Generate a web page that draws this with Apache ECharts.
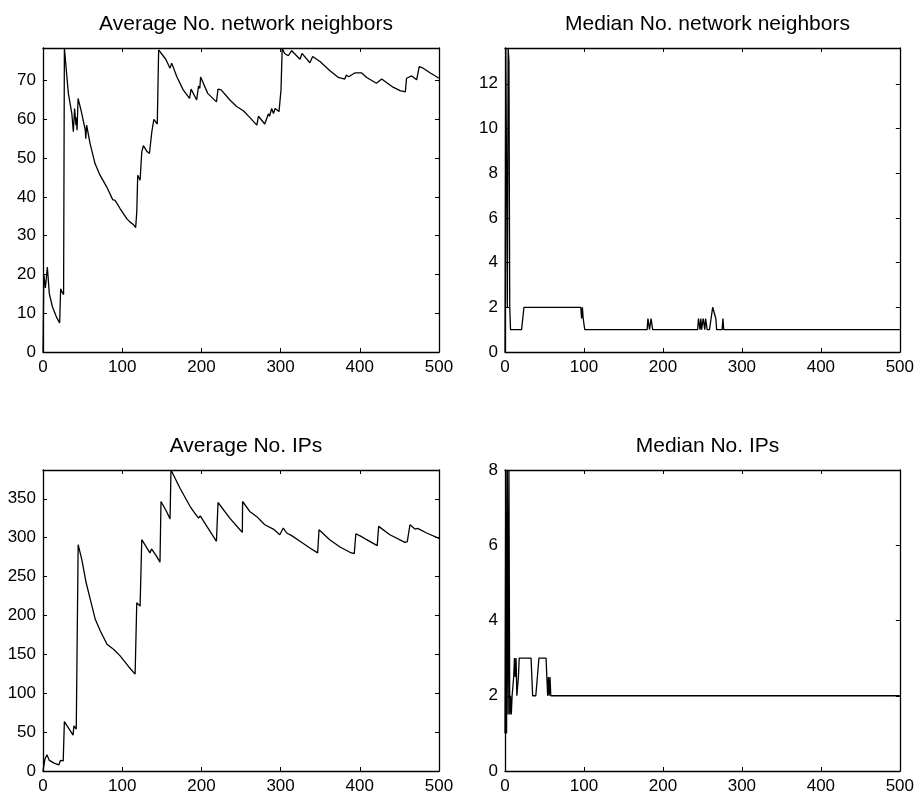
<!DOCTYPE html>
<html>
<head>
<meta charset="utf-8">
<script src="https://cdn.jsdelivr.net/npm/echarts@6/dist/echarts.min.js"></script>
<style>
html,body{margin:0;padding:0;background:#fff;}
#chart{width:917px;height:795px;}
</style>
</head>
<body>
<div id="chart"></div>
<script>
// ---------- data ----------
const titles = ["Average No. network neighbors", "Median No. network neighbors", "Average No. IPs", "Median No. IPs"];

const avgNbrX = [0,1,3,5.5,8,12,17,21,22.3,24,26,27,28,32,36.4,38.3,39.9,41.6,42.3,43,44.3,48,53.4,54,55.1,59.4,65.7,72,74,80.4,88,91,97.3,105.7,110,112,114,117,118.4,119,119.6,122.6,124.7,126.8,131,134.4,137.4,138.5,140,144.3,146,147,148,155,160.4,162.5,169,177,185,187,194,196.4,198,199,208,219,221,225,236,244.5,253,261,270,272,280,284.5,286,288.7,291,293,298,300.5,302,305,309.7,314,324.5,327,337,340.5,349.7,362,373,381,383,386,394,402,408.7,421,427.6,442,450.8,457.5,459,465.5,471.8,475,480,488.6,500];
const avgNbrY = [0,20,16.5,21.9,15,11.6,9,7.5,16.3,15.5,14.8,78.4,78.4,66.7,61.5,56.8,62.8,58.5,60.5,57.2,65.4,62.4,57.2,55,58.5,53.8,48.6,45.6,45.7,42.6,39.3,39.1,37,34.4,33.5,33.8,32.9,32.1,36.1,36,45.6,44.3,51.6,53.2,51.8,51.2,56.8,56.5,60,58.8,77.9,78.4,78.4,75.5,73.2,74.5,71,67.6,65.4,67.8,65,68.6,68,70.9,66.7,64.5,67.8,67.6,65,63.3,62.2,60.5,58.5,60.8,58.8,61.4,60.8,62.8,61.5,62.8,62,67.6,78.4,77,76.4,77.7,75.5,77,74.6,76.2,74.9,72.6,70.8,70.4,71.4,71,72,72,70.8,69.3,70.4,68.3,67.4,67.1,70.6,71.2,70.2,73.6,73.2,72,70.6];

const medNbrX = [0,1,2,3,4,5,6,7,21,24,96,97,98,99,100,101,180,181,182,183,184,185,186,187,244,245,246,247,248,249,250,251,252,253,254,255,256,259,261,263,265,267,268,275,276,277,500];
const medNbrY = [0,13.6,13.6,2,13.6,13,2,1,1,2,2,1.5,2,1.5,1.5,1,1,1.5,1.5,1,1,1.5,1.5,1,1,1.5,1.5,1,1.5,1,1,1.5,1.5,1,1.5,1.5,1,1,1.5,2,2,1.5,1,1,1.5,1,1];

const avgIpX = [0,2.5,3.5,5,8,14,20,22,25.5,27,38,39,42,43.5,44.4,45,49,54.5,55.5,59.7,66,72.4,80.8,89,91,97.4,107.9,116.3,117.5,118.4,119.6,122.6,124.7,127,135,137,143.5,147.7,149,156,160.4,161.6,173,185.8,190,196.4,198.5,201,219,221,235.8,248.7,251.7,252,261,270,272,280,290.8,299,303.4,307.7,314,324.5,337,346.8,348.5,362,375,387.6,393,395,401,408.7,422,423.8,438,457,460,463.3,469.7,473,484.4,500];
const avgIpY = [0,15.7,17,20.9,13.6,10.2,8,13.6,13,63.5,46,58,54,56,291,291,271.8,242,241,220.6,195,180,163,156.6,156,148,134.4,124.6,124,216.4,218.4,212,297.4,296,280.4,285.5,276,268.4,346.5,333.7,324,387,363.6,340,333.7,325.2,328,326,295.3,345.2,325.2,310.2,306.8,346.5,333.7,327,325.5,316.6,311,303.8,312.4,306,302.6,295.3,286.8,280.4,310.2,297.4,288,281.2,279.5,305,302,297.4,289.7,314.5,303.8,294,295,316.6,311,312,306,299];

const medIpX = [0,1,2,3,4,5,6,7,8,9,11,12,13,14,15,17,18,33,35,39,41,42,43,52,53,54,55,56,57,58,500];
const medIpY = [1,8,1,8,1.5,8,1.5,2,1.5,2,2.5,3,2.5,3,2,2.5,3,3,2,2,2.5,2.5,3,3,2.5,2,2.5,2,2.5,2,2];

const xTicks = [0,100,200,300,400,500];
const yMax = [78.4, 13.6, 387, 8];
const yStep = [10, 2, 50, 2];

// ---------- chart ----------
const pair = (xs, ys) => xs.map((x, i) => [x, ys[i]]);
const seriesData = [pair(avgNbrX, avgNbrY), pair(medNbrX, medNbrY), pair(avgIpX, avgIpY), pair(medIpX, medIpY)];

const grids = [
  {left: 43, top: 48, width: 396, height: 304},
  {left: 505, top: 48, width: 395, height: 304},
  {left: 43, top: 470, width: 396, height: 302},
  {left: 505, top: 470, width: 395, height: 302}
];
const FONT = "'Liberation Sans', Arial, Helvetica, sans-serif";
const axisCommon = {
  axisLine: {show: true, onZero: false, lineStyle: {color: '#000', width: 1.3}},
  axisTick: {show: true, inside: true, length: 4, lineStyle: {color: '#000', width: 1}},
  splitLine: {show: false}
};
const xAxes = [], yAxes = [], series = [], title = [];
grids.forEach((g, i) => {
  const xa = Object.assign({type: 'value', gridIndex: i, min: xTicks[0], max: xTicks[xTicks.length - 1], interval: 100}, axisCommon);
  xAxes.push(Object.assign({}, xa, {position: 'bottom',
    axisLabel: {show: true, color: '#000', fontSize: 17, fontFamily: FONT, margin: 7}}));
  xAxes.push(Object.assign({}, xa, {position: 'top', axisLabel: {show: false}}));
  const isMaxTick = Math.abs(yMax[i] / yStep[i] - Math.round(yMax[i] / yStep[i])) < 1e-9;
  const ya = Object.assign({type: 'value', gridIndex: i, min: 0, max: yMax[i], interval: yStep[i]}, axisCommon);
  yAxes.push(Object.assign({}, ya, {position: 'left',
    axisLabel: {show: true, color: '#000', fontSize: 17, fontFamily: FONT, margin: 7, showMaxLabel: isMaxTick}}));
  yAxes.push(Object.assign({}, ya, {position: 'right', axisLabel: {show: false}}));
  series.push({
    type: 'line', xAxisIndex: 2 * i, yAxisIndex: 2 * i, data: seriesData[i],
    showSymbol: false, symbol: 'none', animation: false,
    lineStyle: {color: '#000', width: 1.3}, clip: true
  });
  title.push({
    text: titles[i], left: g.left + g.width / 2, top: i < 2 ? 9 : 431, textAlign: 'center',
    textStyle: {color: '#000', fontSize: 21, fontWeight: 'normal', fontFamily: FONT}
  });
});

const chart = echarts.init(document.getElementById('chart'), null, {renderer: 'canvas'});
chart.setOption({
  backgroundColor: '#fff',
  animation: false,
  title: title,
  grid: grids,
  xAxis: xAxes,
  yAxis: yAxes,
  series: series
});
</script>
</body>
</html>
